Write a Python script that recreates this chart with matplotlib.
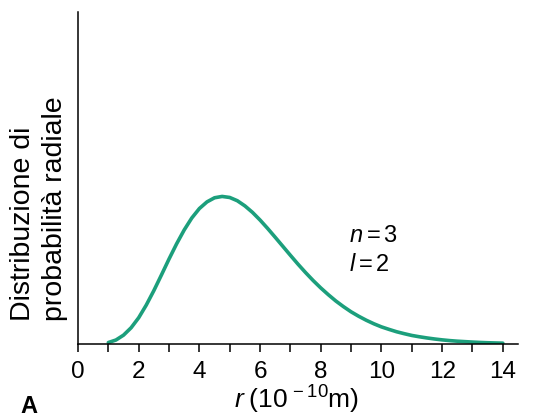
import matplotlib
matplotlib.use("Agg")
import matplotlib.pyplot as plt

plt.rcParams['font.family'] = ['Liberation Sans', 'DejaVu Sans']
plt.rcParams['mathtext.fontset'] = 'custom'
plt.rcParams['mathtext.rm'] = 'Liberation Sans'
plt.rcParams['mathtext.it'] = 'Liberation Sans:italic'
plt.rcParams['mathtext.bf'] = 'Liberation Sans:bold'

# radius (10^-10 m) and radial probability (arbitrary units)
r_values = [1.0, 1.25, 1.5, 1.75, 2.0, 2.25, 2.5, 2.75, 3.0, 3.25, 3.5, 3.75,
            4.0, 4.25, 4.5, 4.75, 5.0, 5.25, 5.5, 5.75, 6.0, 6.25, 6.5, 6.75,
            7.0, 7.25, 7.5, 7.75, 8.0, 8.25, 8.5, 8.75, 9.0, 9.25, 9.5, 9.75,
            10.0, 10.25, 10.5, 10.75, 11.0, 11.25, 11.5, 11.75, 12.0, 12.25,
            12.5, 12.75, 13.0, 13.25, 13.5, 13.75, 14.0]
p_values = [0.010, 0.027, 0.060, 0.110, 0.178, 0.264, 0.362, 0.468, 0.576,
            0.679, 0.773, 0.854, 0.918, 0.963, 0.991, 1.000, 0.993, 0.971,
            0.936, 0.892, 0.840, 0.783, 0.723, 0.662, 0.601, 0.541, 0.484,
            0.430, 0.380, 0.334, 0.291, 0.253, 0.218, 0.188, 0.161, 0.137,
            0.116, 0.099, 0.083, 0.070, 0.058, 0.049, 0.041, 0.034, 0.028,
            0.023, 0.019, 0.016, 0.013, 0.0105, 0.0085, 0.007, 0.0056]
x_ticks = [0, 2, 4, 6, 8, 10, 12, 14]
x_minor = [1, 3, 5, 7, 9, 11, 13]

W, H = 535, 419
fig = plt.figure(figsize=(W / 100, H / 100), dpi=100)
ax = fig.add_axes([78 / W, 75 / H, 440 / W, 332 / H])
ax.plot(r_values, p_values, color='#1c9f7c', lw=2.6, solid_capstyle='round')
ax.set_xlim(0, 14.5)
ax.set_ylim(0, 2.25)
for s in ['top', 'right']:
    ax.spines[s].set_visible(False)
for s in ['left', 'bottom']:
    ax.spines[s].set_linewidth(1.1)
ax.set_yticks([])
ax.set_xticks(x_ticks)
ax.set_xticklabels([str(t) for t in x_ticks], fontsize=17.5)
ax.set_xticks(x_minor, minor=True)
ax.tick_params(axis='x', which='both', direction='out', length=5.5, width=1.1, pad=7)

fig.text(349 / W, 1 - 242 / H, r'$n=3$', fontsize=17, ha='left', va='baseline')
fig.text(349 / W, 1 - 271 / H, r'$l=2$', fontsize=17, ha='left', va='baseline')

fig.text(23 / W, 1 - 321 / H, 'Distribuzione di', rotation=90, fontsize=20.5,
         ha='center', va='bottom')
fig.text(55 / W, 1 - 321 / H, 'probabilità radiale', rotation=90, fontsize=20.5,
         ha='center', va='bottom')
fig.text(297 / W, 1 - 409 / H, r'$r\;(10^{\,-10}$m)', fontsize=19,
         ha='center', va='baseline')
fig.text(29 / W, 1 - 413 / H, 'A', fontsize=17, fontweight='bold',
         ha='center', va='baseline')

fig.savefig('out.png', dpi=100)
